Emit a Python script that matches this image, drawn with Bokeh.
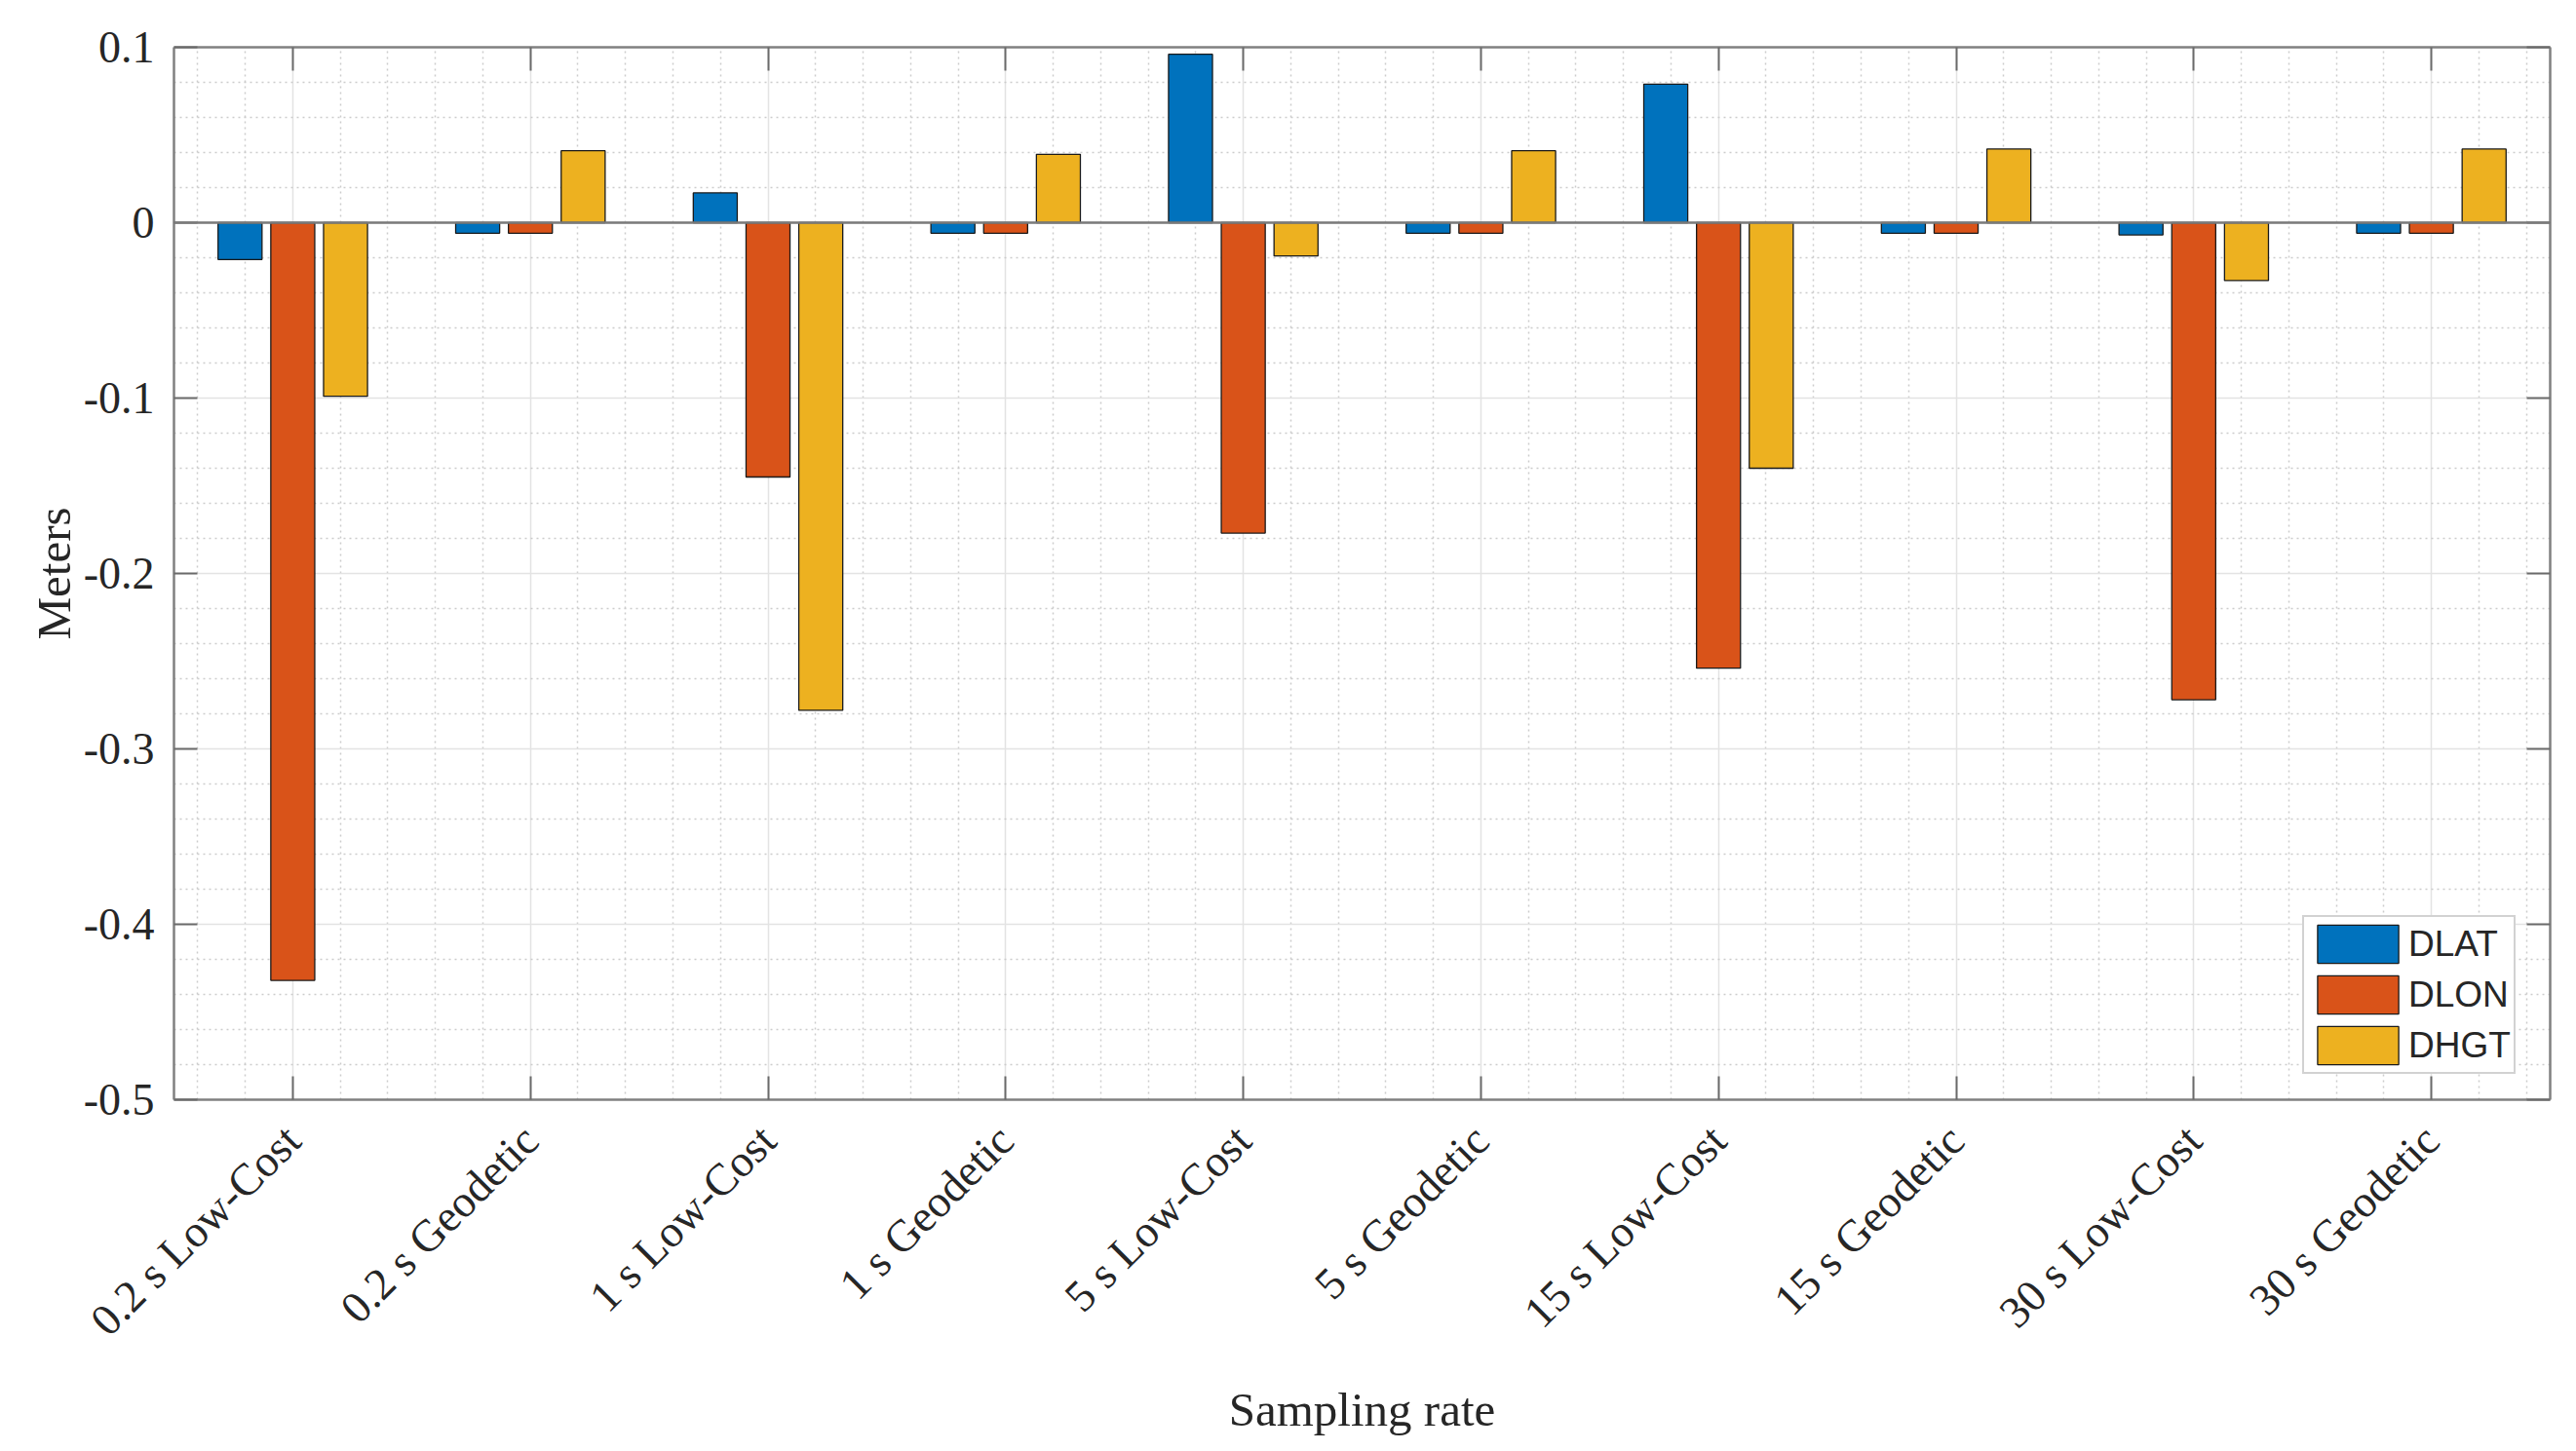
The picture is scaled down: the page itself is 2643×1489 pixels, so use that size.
import numpy as np
from bokeh.plotting import figure
from bokeh.models import (ColumnDataSource, Range1d, FixedTicker, LinearAxis,
                          Legend, LegendItem, Span, CustomJSTickFormatter)
from bokeh.transform import dodge
from bokeh.embed import file_html
from bokeh.resources import INLINE

# ---------------- data ----------------
categories = ["0.2 s Low-Cost", "0.2 s Geodetic", "1 s Low-Cost", "1 s Geodetic",
              "5 s Low-Cost", "5 s Geodetic", "15 s Low-Cost", "15 s Geodetic",
              "30 s Low-Cost", "30 s Geodetic"]
series_names = ["DLAT", "DLON", "DHGT"]
dlat = [-0.021, -0.006, 0.017, -0.006, 0.096, -0.006, 0.079, -0.006, -0.007, -0.006]
dlon = [-0.432, -0.006, -0.145, -0.006, -0.177, -0.006, -0.254, -0.006, -0.272, -0.006]
dhgt = [-0.099, 0.041, -0.278, 0.039, -0.019, 0.041, -0.140, 0.042, -0.033, 0.042]
y_ticks = [-0.5, -0.4, -0.3, -0.2, -0.1, 0.0, 0.1]
x_label = "Sampling rate"
y_label = "Meters"

colors = ["#0072BD", "#D95319", "#EDB120"]
offsets = [-0.222, 0.0, 0.222]
bar_w = 0.185

x_pos = list(range(1, len(categories) + 1))
src = ColumnDataSource(dict(x=x_pos, DLAT=dlat, DLON=dlon, DHGT=dhgt))

SERIF = "Liberation Serif"
TXT = "#262626"
AX = "#808080"

p = figure(frame_width=2438, frame_height=1080,
           x_range=Range1d(0.5, len(categories) + 0.5), y_range=Range1d(-0.5, 0.1),
           output_backend="svg", toolbar_location=None,
           min_border_left=178, min_border_top=48, min_border_right=6, min_border_bottom=10)
p.background_fill_color = "white"
p.border_fill_color = "white"
p.outline_line_color = None

x_minor = [round(0.6 + 0.2 * k, 2) for k in range(50) if abs((0.6 + 0.2 * k) - round(0.6 + 0.2 * k)) > 1e-6]
y_minor = [round(-0.5 + 0.02 * k, 3) for k in range(31) if k % 5 != 0]
xt = FixedTicker(ticks=x_pos, minor_ticks=x_minor)
yt = FixedTicker(ticks=y_ticks, minor_ticks=y_minor)

yfmt = CustomJSTickFormatter(code="""
const v = Math.round(tick*10)/10;
return v === 0 ? '0' : v.toString();
""")
blank = CustomJSTickFormatter(code="return '';")

def style_axis(ax):
    ax.axis_line_color = AX
    ax.axis_line_width = 2.5
    ax.major_tick_line_color = "#6a6a6a"
    ax.major_tick_line_width = 2
    ax.major_tick_in = 24
    ax.major_tick_out = 0
    ax.minor_tick_in = 0
    ax.minor_tick_out = 0
    ax.major_label_text_font = SERIF
    ax.major_label_text_color = TXT
    ax.major_label_text_font_size = "46px"

# bottom x axis
xa = p.xaxis[0]
xa.ticker = xt
style_axis(xa)
xa.major_label_overrides = {i: c for i, c in zip(x_pos, categories)}
xa.major_label_orientation = np.pi / 4
xa.major_label_standoff = 34
xa.axis_label = x_label
xa.axis_label_text_font = SERIF
xa.axis_label_text_font_style = "normal"
xa.axis_label_text_font_size = "49px"
xa.axis_label_text_color = TXT
xa.axis_label_standoff = 18

# left y axis
ya = p.yaxis[0]
ya.ticker = yt
ya.formatter = yfmt
style_axis(ya)
ya.major_label_standoff = 20
ya.axis_label = y_label
ya.axis_label_text_font = SERIF
ya.axis_label_text_font_style = "normal"
ya.axis_label_text_font_size = "49px"
ya.axis_label_text_color = TXT
ya.axis_label_standoff = 0

# top and right axes (box), no labels
top = LinearAxis(ticker=xt, formatter=blank)
style_axis(top)
top.major_label_standoff = 0
p.add_layout(top, "above")
right = LinearAxis(ticker=yt, formatter=blank)
style_axis(right)
right.major_label_standoff = 0
p.add_layout(right, "right")

# grids
for g in (p.xgrid[0], p.ygrid[0]):
    g.grid_line_color = "#e3e3e3"
    g.grid_line_width = 1.5
    g.minor_grid_line_color = "#cccccc"
    g.minor_grid_line_dash = "2 4"
    g.minor_grid_line_width = 1.5
p.xgrid[0].ticker = xt
p.ygrid[0].ticker = yt

# bars
renderers = []
for name, col, off in zip(series_names, colors, offsets):
    r = p.vbar(x=dodge("x", off, range=p.x_range), top=name, bottom=0, width=bar_w,
               source=src, fill_color=col, line_color="#1a1a1a", line_width=1.3)
    renderers.append(r)

baseline = Span(location=0, dimension="width", line_color="#7a7a7a", line_width=2.5)
p.add_layout(baseline)

legend = Legend(items=[LegendItem(label=n, renderers=[r]) for n, r in zip(series_names, renderers)],
                location=(2184, 26))
legend.label_text_font = "Liberation Sans"
legend.label_text_font_size = "37px"
legend.label_text_color = TXT
legend.glyph_width = 104
legend.glyph_height = 49
legend.label_height = 49
legend.label_standoff = 0
legend.spacing = 3
legend.padding = 3
legend.margin = 0
legend.border_line_color = "#a6a6a6"
legend.border_line_width = 2
legend.background_fill_color = "white"
legend.background_fill_alpha = 1.0
p.add_layout(legend, "center")

open("out.html", "w").write(file_html(p, INLINE))
